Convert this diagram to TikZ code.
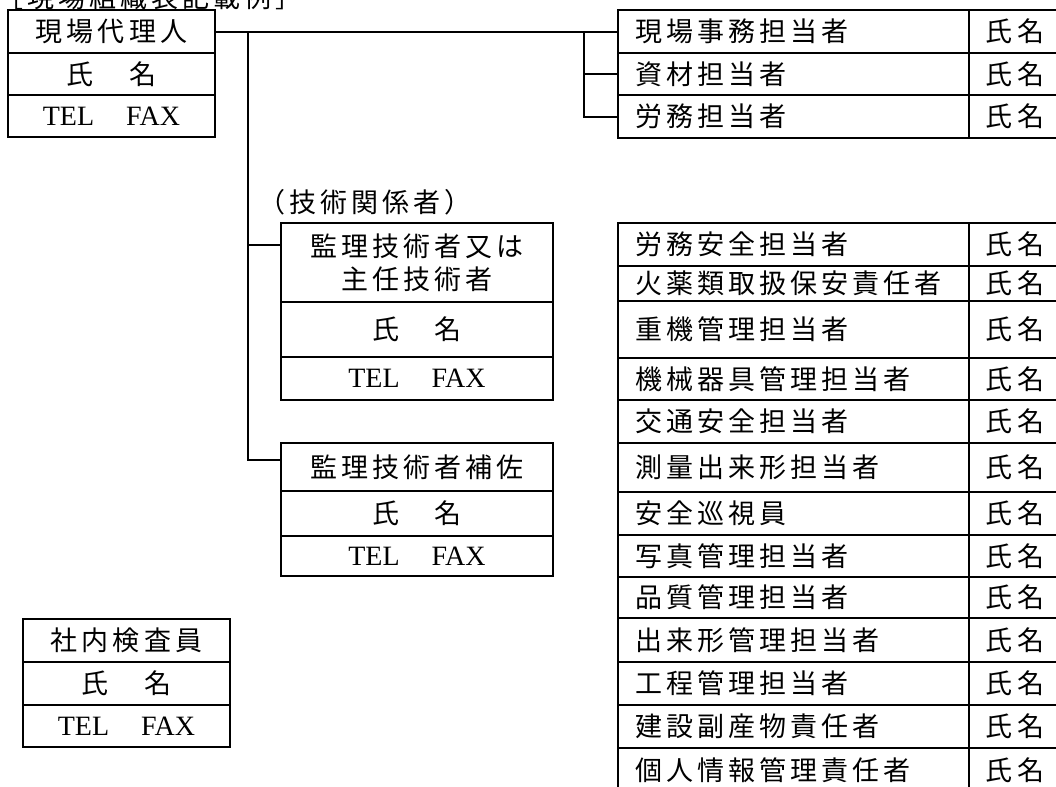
\documentclass[tikz,border=0pt]{standalone}
\usepackage{fontspec}
\setmainfont{Liberation Serif}
\newfontfamily\jpfont{Noto Sans CJK JP}[LetterSpace=15]
\usetikzlibrary{positioning}

\tikzset{
  jp/.style={font=\jpfont\fontsize{13.5}{16.5}\selectfont, inner sep=0pt},
  cell/.style={jp, draw, line width=1pt, outer sep=0pt, align=center},
  tel/.style={font=\rmfamily\fontsize{14}{16}\selectfont},
  leftbox/.style={cell, minimum width=103.5pt, minimum height=#1},
  midbox/.style={cell, minimum width=136pt, minimum height=#1},
  item/.style={cell, text width=158.5pt, align=left, inner xsep=8.5pt, minimum height=#1},
  shimei/.style={cell, minimum width=46pt, minimum height=#1},
  conn/.style={line width=1pt}
}

\begin{document}
\begin{tikzpicture}[x=0.5pt, y=-0.5pt]
  \useasboundingbox (0,0) rectangle (1056,787);

  % title
  \node[jp, anchor=west] (title) at (-4,-3) {［現場組織表記載例］};

  % 現場代理人
  \node[leftbox=21.5pt, anchor=north west] (dairi) at (8,10) {現場代理人};
  \node[leftbox=21pt, below=0pt of dairi] (dairiName) {氏　名};
  \node[leftbox=21pt, tel, below=0pt of dairiName] (dairiTel) {TEL\hspace{16pt}FAX};

  % 事務系
  \node[item=21.5pt, anchor=north west] (jimu) at (618,10) {現場事務担当者};
  \node[shimei=21.5pt, right=0pt of jimu] (jimuN) {氏名};
  \node[item=21pt, below=0pt of jimu] (shizai) {資材担当者};
  \node[shimei=21pt, right=0pt of shizai] (shizaiN) {氏名};
  \node[item=21.5pt, below=0pt of shizai] (roumu) {労務担当者};
  \node[shimei=21.5pt, right=0pt of roumu] (roumuN) {氏名};

  % 技術関係者
  \node[jp, anchor=west] (gijutsu) at (258,202) {（技術関係者）};
  \node[midbox=39.5pt, anchor=north west] (kanri) at (281,223) {監理技術者又は\\主任技術者};
  \node[midbox=27.5pt, below=0pt of kanri] (kanriName) {氏　名};
  \node[midbox=21.5pt, tel, below=0pt of kanriName] (kanriTel) {TEL\hspace{16pt}FAX};

  \node[midbox=24pt, anchor=north west] (hosa) at (281,443) {監理技術者補佐};
  \node[midbox=22.5pt, below=0pt of hosa] (hosaName) {氏　名};
  \node[midbox=20pt, tel, below=0pt of hosaName] (hosaTel) {TEL\hspace{16pt}FAX};

  % 社内検査員
  \node[leftbox=21.5pt, anchor=north west] (kensa) at (23,619) {社内検査員};
  \node[leftbox=21.5pt, below=0pt of kensa] (kensaName) {氏　名};
  \node[leftbox=21pt, tel, below=0pt of kensaName] (kensaTel) {TEL\hspace{16pt}FAX};

  % 担当者一覧
  \node[item=21.5pt, anchor=north west] (anzen) at (618,223) {労務安全担当者};
  \node[shimei=21.5pt, right=0pt of anzen] (anzenN) {氏名};
  \node[item=17.5pt, below=0pt of anzen] (kayaku) {火薬類取扱保安責任者};
  \node[shimei=17.5pt, right=0pt of kayaku] (kayakuN) {氏名};
  \node[item=28.5pt, below=0pt of kayaku] (juki) {重機管理担当者};
  \node[shimei=28.5pt, right=0pt of juki] (jukiN) {氏名};
  \node[item=21pt, below=0pt of juki] (kikai) {機械器具管理担当者};
  \node[shimei=21pt, right=0pt of kikai] (kikaiN) {氏名};
  \node[item=21.5pt, below=0pt of kikai] (kotsu) {交通安全担当者};
  \node[shimei=21.5pt, right=0pt of kotsu] (kotsuN) {氏名};
  \node[item=24.5pt, below=0pt of kotsu] (sokuryo) {測量出来形担当者};
  \node[shimei=24.5pt, right=0pt of sokuryo] (sokuryoN) {氏名};
  \node[item=21.5pt, below=0pt of sokuryo] (junshi) {安全巡視員};
  \node[shimei=21.5pt, right=0pt of junshi] (junshiN) {氏名};
  \node[item=21pt, below=0pt of junshi] (shashin) {写真管理担当者};
  \node[shimei=21pt, right=0pt of shashin] (shashinN) {氏名};
  \node[item=20.5pt, below=0pt of shashin] (hinshitsu) {品質管理担当者};
  \node[shimei=20.5pt, right=0pt of hinshitsu] (hinshitsuN) {氏名};
  \node[item=22pt, below=0pt of hinshitsu] (dekigata) {出来形管理担当者};
  \node[shimei=22pt, right=0pt of dekigata] (dekigataN) {氏名};
  \node[item=21.5pt, below=0pt of dekigata] (koutei) {工程管理担当者};
  \node[shimei=21.5pt, right=0pt of koutei] (kouteiN) {氏名};
  \node[item=21.5pt, below=0pt of koutei] (fukusan) {建設副産物責任者};
  \node[shimei=21.5pt, right=0pt of fukusan] (fukusanN) {氏名};
  \node[item=22pt, below=0pt of fukusan] (kojin) {個人情報管理責任者};
  \node[shimei=22pt, right=0pt of kojin] (kojinN) {氏名};

  % 連絡線
  \coordinate[right=16.5pt of dairi.east] (lj);
  \coordinate[left=17pt of jimu.west] (rj);
  \draw[conn] (dairi.east) -- (jimu.west);
  \draw[conn] (rj) |- (shizai.west);
  \draw[conn] (rj) |- (roumu.west);
  \draw[conn] (lj) |- ([yshift=8.75pt]kanri.west);
  \draw[conn] (lj) |- ([yshift=3.5pt]hosa.west);
\end{tikzpicture}
\end{document}
